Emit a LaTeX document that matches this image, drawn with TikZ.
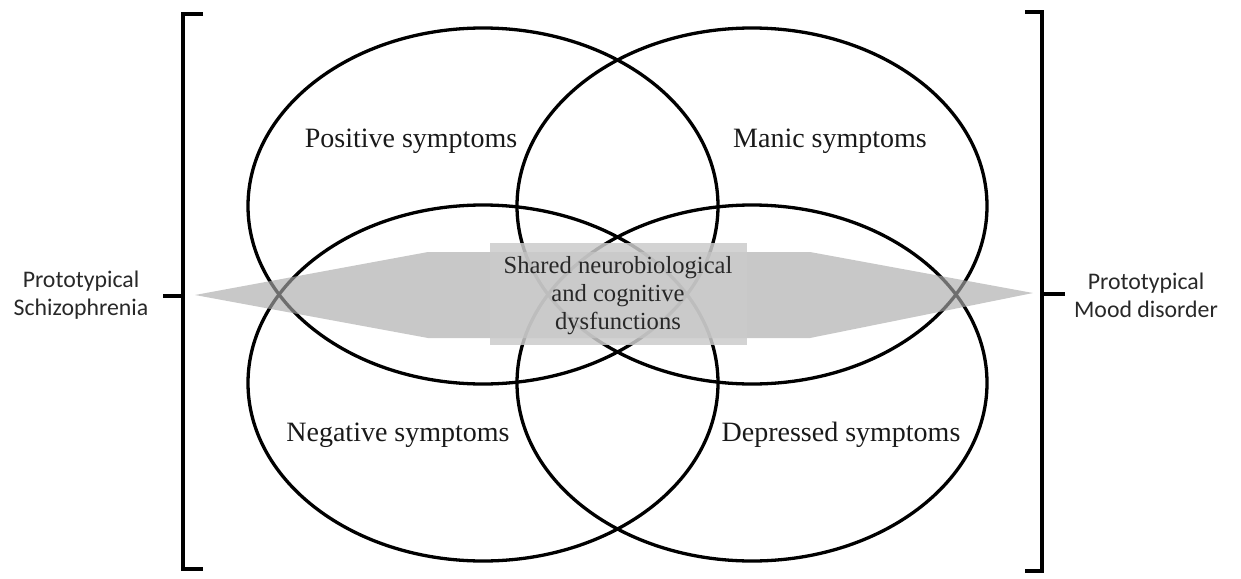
\documentclass[tikz,border=0pt]{standalone}
\usepackage{fontspec}
\setmainfont{Liberation Serif}
\newfontfamily\carlitofont{Carlito}
\begin{document}
\begin{tikzpicture}[x=0.5pt,y=-0.5pt,
  ring/.style={draw=black,line width=1.65pt},
  brk/.style={draw=black,line width=1.65pt},
  lbl/.style={font=\fontsize{14pt}{16pt}\selectfont,text={rgb,255:red,25;green,25;blue,25},inner sep=0pt},
  side/.style={font=\carlitofont\fontsize{11.9pt}{14pt}\selectfont,text={rgb,255:red,40;green,40;blue,40},align=center,inner sep=0pt},
  ctr/.style={font=\fontsize{12.3pt}{14pt}\selectfont,text={rgb,255:red,40;green,40;blue,40},align=center,inner sep=0pt}]
\useasboundingbox (0,0) rectangle (1241,578);
% ellipses
\draw[ring] (483,206) ellipse [x radius=235,y radius=178];
\draw[ring] (752,206) ellipse [x radius=235,y radius=178];
\draw[ring] (483,383) ellipse [x radius=235,y radius=178];
\draw[ring] (752,383) ellipse [x radius=235,y radius=178];
% grey band
\fill[fill={rgb,255:red,170;green,170;blue,170},opacity=0.65]
  (195,295) -- (428,252) -- (810,252) -- (1033,293) -- (810,338) -- (428,338) -- cycle;
\fill[fill={rgb,255:red,203;green,203;blue,203},opacity=0.85]
  (490,243) rectangle (747,345);
% brackets
\draw[brk] (203,14) -- (183,14) -- (183,569) -- (203,569);
\draw[brk] (163,296) -- (183,296);
\draw[brk] (1025,12) -- (1042,12) -- (1042,571) -- (1025,571);
\draw[brk] (1042,294) -- (1065,294);
% labels
\node[lbl] (pos) at (411,141) {Positive symptoms};
\node[lbl] (man) at (830,141) {Manic symptoms};
\node[lbl] (neg) at (398,435) {Negative symptoms};
\node[lbl] (dep) at (841,435) {Depressed symptoms};
\node[ctr] (shared) at (618,296) {Shared neurobiological\\and cognitive\\dysfunctions};
\node[side] (schz) at (81,295) {Prototypical\\Schizophrenia};
\node[side] (mood) at (1146,295) {Prototypical\\Mood disorder};
\end{tikzpicture}
\end{document}
